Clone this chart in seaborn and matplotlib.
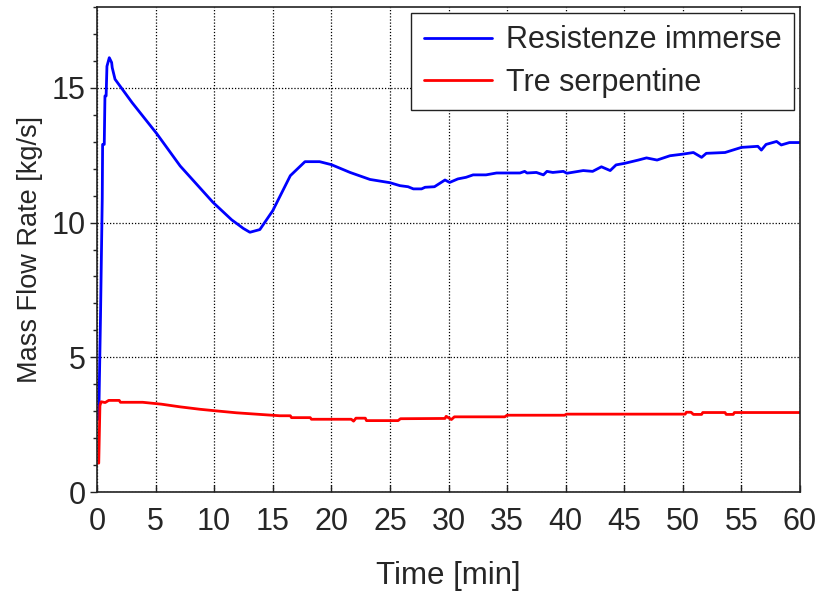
import numpy as np
import pandas as pd
import matplotlib
matplotlib.use("Agg")
import matplotlib.pyplot as plt
from matplotlib.ticker import MultipleLocator
import seaborn as sns

# Mass flow rate vs. time for the two heating configurations
t_resistenze = [0.15, 0.3, 0.45, 0.48, 0.62, 0.68, 0.78, 0.85, 1.05, 1.25, 1.3, 1.54,
                3.0, 5.1, 7.1, 9.9, 11.5, 12.5, 13.05, 13.9, 15.0, 16.5, 17.75, 19.0,
                20.0, 21.6, 23.3, 25.0, 25.85, 26.55, 27.0, 27.7, 28.0, 28.8, 29.7,
                30.1, 30.8, 31.5, 32.1, 33.2, 34.1, 36.1, 36.5, 36.7, 37.5, 38.1,
                38.4, 38.9, 39.8, 40.1, 41.5, 42.3, 43.05, 43.8, 44.3, 45.05, 46.2,
                46.9, 47.8, 48.9, 50.0, 50.9, 51.6, 52.0, 53.6, 55.0, 56.4, 56.7,
                57.1, 58.0, 58.4, 59.1, 60.0]
m_resistenze = [2.7, 6.5, 10.9, 12.9, 12.9, 14.7, 14.7, 15.8, 16.12, 15.94, 15.75, 15.32,
                14.45, 13.3, 12.1, 10.75, 10.1, 9.78, 9.64, 9.74, 10.44, 11.74, 12.26, 12.26,
                12.15, 11.86, 11.6, 11.48, 11.37, 11.33, 11.25, 11.25, 11.31, 11.33, 11.58,
                11.49, 11.62, 11.68, 11.77, 11.77, 11.84, 11.84, 11.9, 11.84, 11.86, 11.77,
                11.9, 11.86, 11.9, 11.83, 11.93, 11.9, 12.07, 11.93, 12.14, 12.2, 12.32,
                12.4, 12.32, 12.48, 12.54, 12.6, 12.42, 12.57, 12.6, 12.79, 12.83, 12.69,
                12.9, 13.01, 12.88, 12.97, 12.97]

t_serpentine = [0.15, 0.25, 0.35, 0.7, 1.0, 1.9, 2.0, 3.9, 5.5, 7.1, 8.8, 10.2, 11.9,
                13.9, 15.6, 16.5, 16.6, 18.2, 18.3, 21.7, 21.9, 22.1, 22.9, 23.0, 25.7,
                25.9, 29.7, 29.8, 30.25, 30.5, 34.8, 35.0, 39.9, 40.07, 50.2, 50.3, 50.7,
                50.9, 51.6, 51.7, 53.6, 53.7, 54.3, 54.4, 60.0]
m_serpentine = [1.07, 3.2, 3.35, 3.32, 3.4, 3.4, 3.33, 3.33, 3.26, 3.16, 3.07, 3.01, 2.94,
                2.88, 2.83, 2.83, 2.76, 2.76, 2.70, 2.70, 2.63, 2.74, 2.74, 2.65, 2.65,
                2.72, 2.73, 2.81, 2.69, 2.79, 2.79, 2.85, 2.85, 2.89, 2.89, 2.96, 2.96,
                2.88, 2.88, 2.95, 2.95, 2.88, 2.88, 2.95, 2.95]

series_names = ["Resistenze immerse", "Tre serpentine"]
series_colors = ["#0000ff", "#ff0000"]

df = pd.concat([
    pd.DataFrame({"t": t_resistenze, "m": m_resistenze, "serie": series_names[0]}),
    pd.DataFrame({"t": t_serpentine, "m": m_serpentine, "serie": series_names[1]}),
])

sns.set_style("ticks")
plt.rcParams["font.family"] = ["Liberation Sans", "DejaVu Sans"]

fig = plt.figure(figsize=(8.24, 5.94), dpi=100)
ax = fig.add_axes([0.1177, 0.1717, 0.8532, 0.8165])

sns.lineplot(data=df, x="t", y="m", hue="serie", palette=series_colors,
             estimator=None, sort=False, linewidth=2.0, ax=ax, legend=False)

ax.set_xlim(0, 60)
ax.set_ylim(0, 18)
ax.xaxis.set_major_locator(MultipleLocator(5))
ax.yaxis.set_major_locator(MultipleLocator(5))
ax.yaxis.set_minor_locator(MultipleLocator(1))

ax.grid(True, which="major", color="black", linestyle=(0, (1, 1.5)), linewidth=0.9)
ax.set_axisbelow(True)

for s in ax.spines.values():
    s.set_visible(True)
    s.set_color("#222222")
    s.set_linewidth(1.2)

ax.tick_params(axis="x", which="major", direction="in", length=5, width=1,
               labelsize=22, pad=11, color="#222222")
ax.tick_params(axis="y", which="major", direction="out", length=5, width=1,
               labelsize=22, pad=3, color="#222222")
ax.tick_params(axis="y", which="minor", direction="out", length=3, width=1,
               color="#222222")

ax.set_xlabel("Time [min]", fontsize=22.5, labelpad=17)
ax.set_ylabel("Mass Flow Rate [kg/s]", fontsize=19.5, labelpad=6)

handles = [plt.Line2D([], [], color=c, linewidth=2) for c in series_colors]
leg = ax.legend(handles, series_names, loc="upper right", fontsize=22,
                frameon=True, fancybox=False, framealpha=1, edgecolor="#222222",
                handlelength=2.25, handletextpad=0.45, borderaxespad=0.2,
                borderpad=0.4, labelspacing=0.4)
leg.get_frame().set_linewidth(1.0)

fig.savefig("out.png", dpi=100)
